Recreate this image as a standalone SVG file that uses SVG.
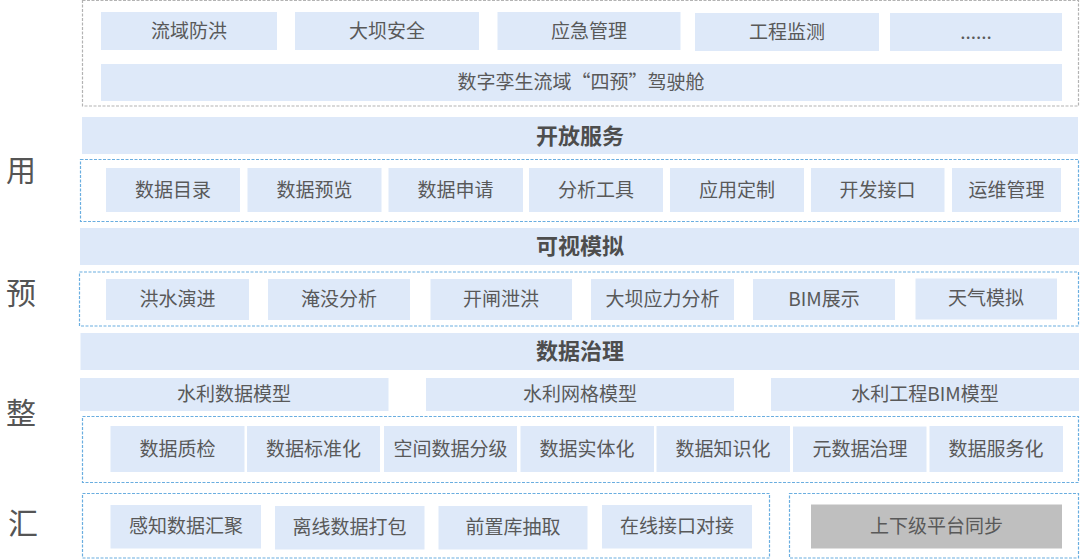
<svg xmlns="http://www.w3.org/2000/svg" width="1080" height="559" viewBox="0 0 1080 559">
<style>
.b{fill:#dee9f9;}
.g{fill:#bfbfbf;}
.dg{fill:none;stroke:#b3b3b3;stroke-width:1.2;stroke-dasharray:3 1.5;}
.db{fill:none;stroke:#6aaee0;stroke-width:1.2;stroke-dasharray:3 1.5;}
text{font-family:"Noto Sans CJK SC","Noto Sans",sans-serif;fill:#595959;text-anchor:middle;dominant-baseline:central;}
.t{font-size:19px;}
.h{font-size:22px;font-weight:bold;fill:#4d4d4d;}
.s{font-size:30px;fill:#555555;}
</style>
<rect width="1080" height="559" fill="#ffffff"/>
<g id="side-labels">
<text class="s" x="21" y="168">用</text>
<text class="s" x="21" y="291">预</text>
<text class="s" x="21" y="411">整</text>
<text class="s" x="23" y="521">汇</text>
</g>
<g id="containers">
<rect class="dg" x="82.5" y="0.5" width="996" height="105.5"/>
<rect class="db" x="80.5" y="159.5" width="998" height="62"/>
<rect class="db" x="79.5" y="272" width="999" height="54"/>
<rect class="db" x="82.5" y="416.5" width="996" height="66"/>
<rect class="db" x="82.5" y="493.5" width="687" height="64.5"/>
<rect class="db" x="789.5" y="493.5" width="289" height="64.5"/>
</g>
<g id="apps">
<g id="n-lyfh"><rect class="b" x="101" y="12" width="176" height="38"/><text class="t" x="189" y="29">流域防洪</text></g>
<g id="n-dbaq"><rect class="b" x="295" y="12" width="184" height="38"/><text class="t" x="387" y="29">大坝安全</text></g>
<g id="n-yjgl"><rect class="b" x="497.5" y="12" width="183" height="38"/><text class="t" x="589" y="29">应急管理</text></g>
<g id="n-gcjc"><rect class="b" x="695" y="13" width="184" height="38"/><text class="t" x="787" y="30">工程监测</text></g>
<g id="n-more"><rect class="b" x="890" y="13" width="172" height="38"/><text class="t" x="976" y="30">......</text></g>
<g id="n-cockpit"><rect class="b" x="101" y="64" width="961" height="37"/><text class="t" x="581" y="80.5">数字孪生流域“四预”驾驶舱</text></g>
</g>
<g id="open-service">
<g id="n-kffw"><rect class="b" x="82" y="117" width="996" height="37"/><text class="h" x="580" y="133.5">开放服务</text></g>
<g id="n-sjml"><rect class="b" x="106" y="168" width="134" height="44"/><text class="t" x="173" y="188">数据目录</text></g>
<g id="n-sjyl"><rect class="b" x="247.5" y="168" width="134" height="44"/><text class="t" x="314.5" y="188">数据预览</text></g>
<g id="n-sjsq"><rect class="b" x="388.5" y="168" width="134.5" height="44"/><text class="t" x="455.5" y="188">数据申请</text></g>
<g id="n-fxgj"><rect class="b" x="529" y="168" width="134" height="44"/><text class="t" x="596" y="188">分析工具</text></g>
<g id="n-yydz"><rect class="b" x="670" y="168" width="134" height="44"/><text class="t" x="737" y="188">应用定制</text></g>
<g id="n-kfjk"><rect class="b" x="811" y="168" width="133.5" height="44"/><text class="t" x="877.5" y="188">开发接口</text></g>
<g id="n-ywgl"><rect class="b" x="952" y="168" width="109" height="44"/><text class="t" x="1006.5" y="188">运维管理</text></g>
</g>
<g id="visual-sim">
<g id="n-ksmn"><rect class="b" x="80" y="228" width="999" height="37"/><text class="h" x="580" y="244">可视模拟</text></g>
<g id="n-hsyj"><rect class="b" x="106" y="279" width="143" height="41"/><text class="t" x="177.5" y="297">洪水演进</text></g>
<g id="n-ymfx"><rect class="b" x="268" y="279" width="142" height="41"/><text class="t" x="339" y="297">淹没分析</text></g>
<g id="n-kzxh"><rect class="b" x="430.5" y="279" width="141.5" height="41"/><text class="t" x="501" y="297">开闸泄洪</text></g>
<g id="n-dbylfx"><rect class="b" x="591" y="279" width="143" height="41"/><text class="t" x="662.5" y="297">大坝应力分析</text></g>
<g id="n-bimzs"><rect class="b" x="753" y="279" width="142" height="41"/><text class="t" x="824" y="297">BIM展示</text></g>
<g id="n-tqmn"><rect class="b" x="915.5" y="278.5" width="141.5" height="41"/><text class="t" x="986" y="296.5">天气模拟</text></g>
</g>
<g id="data-gov">
<g id="n-sjzl"><rect class="b" x="80.5" y="333" width="998.5" height="37"/><text class="h" x="580" y="349">数据治理</text></g>
<g id="n-slsjmx"><rect class="b" x="80" y="378" width="308.5" height="33"/><text class="t" x="234" y="392.5">水利数据模型</text></g>
<g id="n-slwgmx"><rect class="b" x="426" y="378" width="308" height="33"/><text class="t" x="580" y="392.5">水利网格模型</text></g>
<g id="n-slgcbim"><rect class="b" x="771" y="378" width="308" height="33"/><text class="t" x="925" y="392.5">水利工程BIM模型</text></g>
<g id="n-sjzj"><rect class="b" x="110.5" y="426" width="134" height="46"/><text class="t" x="177.5" y="447">数据质检</text></g>
<g id="n-sjbzh"><rect class="b" x="247" y="426" width="133" height="46"/><text class="t" x="313.5" y="447">数据标准化</text></g>
<g id="n-kjsjfj"><rect class="b" x="384" y="426" width="133" height="46"/><text class="t" x="450.5" y="447">空间数据分级</text></g>
<g id="n-sjsth"><rect class="b" x="520.5" y="426" width="133.5" height="46"/><text class="t" x="587" y="447">数据实体化</text></g>
<g id="n-sjzsh"><rect class="b" x="656.5" y="426" width="133.5" height="46"/><text class="t" x="723" y="447">数据知识化</text></g>
<g id="n-ysjzl"><rect class="b" x="793" y="426.5" width="133.5" height="45.5"/><text class="t" x="860" y="447">元数据治理</text></g>
<g id="n-sjfwh"><rect class="b" x="929.5" y="426" width="133.5" height="46"/><text class="t" x="996" y="447">数据服务化</text></g>
</g>
<g id="aggregate">
<g id="n-gzsjhj"><rect class="b" x="110.5" y="505" width="150.5" height="43.5"/><text class="t" x="186" y="524.5">感知数据汇聚</text></g>
<g id="n-lxsjdb"><rect class="b" x="275" y="506" width="149.5" height="43.5"/><text class="t" x="349.5" y="525.5">离线数据打包</text></g>
<g id="n-qzkcq"><rect class="b" x="438.5" y="506" width="149" height="43.5"/><text class="t" x="513" y="525.5">前置库抽取</text></g>
<g id="n-zxjkdj"><rect class="b" x="602" y="505" width="150" height="43.5"/><text class="t" x="677" y="524.5">在线接口对接</text></g>
<g id="n-sxjpt"><rect class="g" x="811" y="504.5" width="251" height="44"/><text class="t" x="936.5" y="524.5">上下级平台同步</text></g>
</g>
<g id="connectors"></g>
</svg>
